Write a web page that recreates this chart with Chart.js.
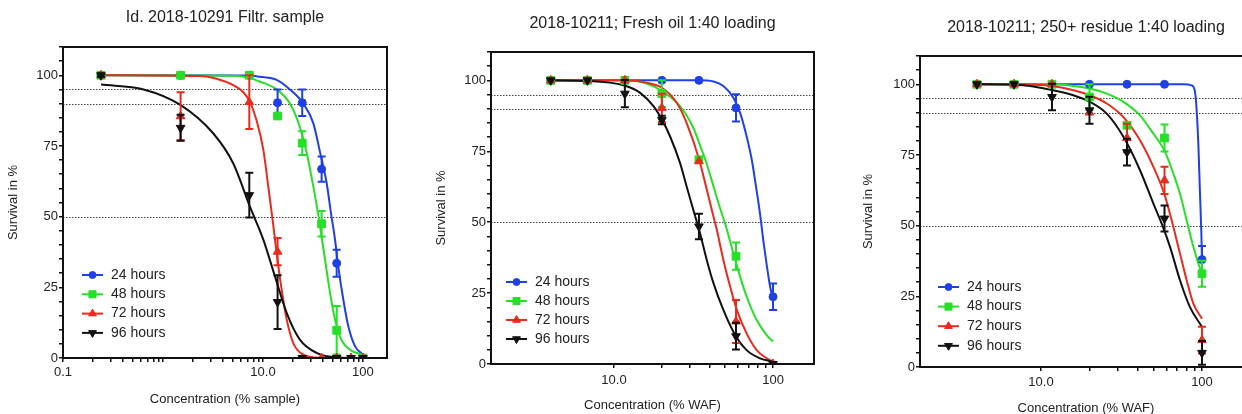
<!DOCTYPE html>
<html>
<head>
<meta charset="utf-8">
<script src="https://cdn.jsdelivr.net/npm/chart.js@4.4.1/dist/chart.umd.min.js"></script>
<style>
   body { margin: 0; background: #fff; overflow: hidden; width: 1242px; height: 414px; position: relative; }
   canvas { position: absolute; top: 0; }
</style>
</head>
<body>
<canvas id="chart-1" width="414" height="414" style="left:0px"></canvas>
<canvas id="chart-2" width="414" height="414" style="left:414px"></canvas>
<canvas id="chart-3" width="460" height="414" style="left:828px"></canvas>
<script>
// series shared by the three panels
const seriesNames = ["24 hours", "48 hours", "72 hours", "96 hours"];
const yTickValues = [0, 25, 50, 75, 100];
const refLines = [95, 90, 50];

// panel 1 - Id. 2018-10291 Filtr. sample
const p1Conc = [0.24, 1.5, 7.3, 14, 24.7, 38.6, 54.6, 76, 100];
const p1_24h = [100, 100, 100, 90.3, 90.3, 66.8, 33.5, null, 0];
const p1_48h = [100, 100, 100, 85.6, 76, 47.5, 9.8, null, 0];
const p1_72h = [100, 85.5, 90.5, 37.6, 0, 0, 0, 0, 0];
const p1_96h = [100, 81.4, 57.6, 19.8, 0, null, 0, 0, 0];
const p1_24hErr = [0, 0, 0, 4.7, 4.7, 4.5, 4.8, 0, 0];
const p1_48hErr = [0, 0, 0, 0.5, 4.2, 4.5, 8.6, 0, 0];
const p1_72hErr = [0, 8.5, 9.5, 4.8, 0, 0, 0, 0, 0];
const p1_96hErr = [0.5, 4.6, 7.9, 9.5, 0, 0, 0, 0, 0];
const p1_24hFit = [[0.24, 100], [7.41, 99.9], [9.26, 99.5], [13.7, 98.4], [18.6, 95], [25.3, 90], [31.9, 83], [37.1, 73], [43.3, 62], [48, 51], [52.5, 42], [56.6, 32.4], [63.6, 20.7], [71.3, 11.3], [83.2, 4.2], [100, 1.2]];
const p1_48hFit = [[0.24, 100], [5.05, 99.8], [7.41, 99], [9.26, 97.8], [13.7, 95], [18.6, 90], [23.4, 81.7], [27.4, 72.4], [31.9, 60.6], [36, 50], [40.1, 39], [45, 27], [50.5, 16.5], [58.9, 7.6], [74.1, 2.9], [100, 1.2]];
const p1_72hFit = [[0.24, 100], [2.34, 99.7], [3.44, 98.8], [5.05, 96.5], [6.36, 94], [7.41, 90.6], [8.64, 84], [10.1, 73.5], [11.3, 60.6], [12.5, 48.8], [13.7, 37.1], [15.4, 24.1], [17.3, 13.5], [20.1, 5.3], [25.3, 1.2], [37.2, 0]];
const p1_96hFit = [[0.24, 96.7], [0.64, 95], [1.48, 89.6], [3.19, 79.4], [5.05, 68.8], [7.41, 53.5], [10.1, 41.8], [13.2, 28.8], [17.3, 15.9], [23.4, 6.5], [34.4, 1.8], [54.6, 0.2], [100, 0]];
const p1XTicks = [0.1, 0.2, 0.3, 0.4, 0.5, 0.6, 0.7, 0.8, 0.9, 1, 2, 3, 4, 5, 6, 7, 8, 9, 10, 20, 30, 40, 50, 60, 70, 80, 90, 100];
const p1XLabelValues = [0.1, 10, 100];
const p1XLabels = ["0.1", "10.0", "100"];

// panel 2 - Fresh oil
const p2Conc = [4.0, 6.8, 11.7, 20, 34.2, 58.5, 100];
const p2_24h = [100, 100, 100, 100, 100, 90.3, 23.7];
const p2_48h = [100, 100, 100, 95.3, 72, 38, null];
const p2_72h = [100, 100, 100, 90.3, 71.5, 15, 0];
const p2_96h = [100, 100, 95.3, 86, 48.5, 9.8, 0];
const p2_24hErr = [0, 0, 0, 0, 0, 4.8, 4.7];
const p2_48hErr = [0, 0, 0, 4.7, 0, 4.8, 0];
const p2_72hErr = [0, 0, 0, 5, 0, 7.6, 0];
const p2_96hErr = [0, 0, 4.8, 1.5, 4.5, 4.7, 0];
const p2_24hFit = [[4.0, 100], [34.3, 100], [42.2, 99.6], [48.7, 98], [56.3, 93.9], [62, 88.6], [68.2, 80.3], [73.5, 72], [78.9, 61], [82.8, 53], [86.9, 43.5], [91.2, 35], [95.7, 27.5], [100, 22.6]];
const p2_48hFit = [[4.0, 100], [11.6, 100], [16, 98.9], [20, 96.2], [26, 90.9], [31.5, 83.3], [34.8, 77], [38.3, 70.5], [42.2, 62.7], [46.4, 55], [50.6, 48.5], [56.3, 39.1], [62, 30.9], [68.2, 23.8], [78.9, 15.5], [91.2, 10.2], [100, 7.9]];
const p2_72hFit = [[4.0, 100], [11.6, 100], [16, 99.2], [20, 97.4], [24.8, 92.1], [28.6, 85], [34.3, 72.1], [38.3, 61.5], [42.2, 52], [44.3, 47.3], [48.7, 36.7], [53.7, 27.3], [59.2, 19.1], [68.2, 10.8], [78.9, 4.9], [91.2, 2], [100, 0.8]];
const p2_96hFit = [[4.0, 100], [6.8, 99.8], [11.6, 98.2], [14.6, 95.6], [17.7, 90.9], [20, 86.2], [22.5, 80.3], [26, 70.9], [28.6, 62.7], [31.5, 54.4], [34.3, 47.3], [38.3, 36.7], [42.2, 28.5], [48.7, 19.1], [58.5, 9.7], [68.2, 4.9], [82.8, 2], [100, 0.8]];

// panel 3 - 250+ residue
const p3Conc = [4.0, 6.8, 11.7, 20, 34.2, 58.5, 100];
const p3_24h = [100, 100, 100, 100, 100, 100, 38];
const p3_48h = [100, 100, 100, 95.5, 85.5, 81, 33];
const p3_72h = [100, 100, 100, 90, 81, 66, 9.5];
const p3_96h = [100, 100, 95.5, 90.8, 76, 52.5, 5];
const p3_24hErr = [0, 0, 0, 0, 0, 0, 4.8];
const p3_48hErr = [0, 0, 0, 4.5, 0.5, 4.8, 4.6];
const p3_72hErr = [0, 0, 0, 0, 5, 4.8, 4.7];
const p3_96hErr = [0, 0, 4.7, 4.8, 4.7, 4.6, 4.2];
const p3_24hFit = [[4.0, 100], [76.6, 100], [86.3, 99.6], [90.5, 97.3], [92.6, 91], [94.9, 79], [97.2, 61.3], [99.1, 47.2], [100, 37.7]];
const p3_48hFit = [[4.0, 100], [11.9, 100], [15.9, 99.4], [20.1, 98.5], [25.6, 96.7], [32.5, 93.8], [41.2, 89], [49.9, 82.5], [58.3, 76.7], [66.4, 68.4], [73, 61.3], [80.3, 51.9], [88.4, 42.5], [94.9, 36.6], [100, 33]];
const p3_72hFit = [[4.0, 100], [7.0, 100], [11.9, 99.3], [15.9, 97.9], [20.1, 96.1], [25.6, 93.2], [32.5, 88.4], [41.2, 80.2], [49.9, 70.8], [58.3, 61.3], [64.8, 51.9], [73, 40.1], [80.3, 30.7], [88.4, 22.4], [100, 17.1]];
const p3_96hFit = [[4.0, 100], [7.0, 99.8], [11.9, 97.9], [15.9, 96.1], [20.1, 93.8], [25.6, 89.6], [32.5, 81.4], [41.2, 69.6], [49.9, 57.8], [56.2, 50.7], [63.3, 42.5], [73, 30.7], [84.2, 21.2], [100, 14.2]];

const wafXTicks = [10, 20, 30, 40, 50, 60, 70, 80, 90, 100];
const wafXLabelValues = [10, 100];
const wafXLabels = ["10.0", "100"];

// styles
const seriesColors = ["#1f40e6", "#25e025", "#ea2a1c", "#111111"];
const seriesShapes = ["circle", "rect", "triangle", "triangle"];
const seriesRotation = [0, 0, 0, 180];
const seriesRadius = [4, 5.5, 5, 5];
const fontFamily = "'Liberation Sans', Arial, sans-serif";

Chart.defaults.font.family = fontFamily;
Chart.defaults.color = "#222";

const yTicksAll = [];
for (let v = 0; v <= 110; v += 5) yTicksAll.push(v);

const errorBarPlugin = {
   id: "errorBars",
   afterDatasetDraw: function (chart, args) {
      const ds = chart.data.datasets[args.index];
      if (!ds.errors) return;
      const ctx = chart.ctx;
      const xs = chart.scales.x;
      const ys = chart.scales.y;
      ctx.save();
      ctx.strokeStyle = ds.borderColor;
      ctx.lineWidth = 2;
      ds.data.forEach(function (p, i) {
         const e = ds.errors[i];
         if (!e) return;
         const x = xs.getPixelForValue(p.x);
         const yTop = ys.getPixelForValue(p.y + e);
         const yBot = ys.getPixelForValue(Math.max(p.y - e, 0));
         ctx.beginPath();
         ctx.moveTo(x, yTop);
         ctx.lineTo(x, yBot);
         ctx.moveTo(x - 4, yTop);
         ctx.lineTo(x + 4, yTop);
         if (p.y - e > 0) {
            ctx.moveTo(x - 4, yBot);
            ctx.lineTo(x + 4, yBot);
         }
         ctx.stroke();
      });
      ctx.restore();
   },
};

const framePlugin = {
   id: "frameLines",
   beforeDatasetsDraw: function (chart) {
      const ctx = chart.ctx;
      const area = chart.chartArea;
      ctx.save();
      ctx.strokeStyle = "#444";
      ctx.lineWidth = 1;
      ctx.setLineDash([1.5, 1.5]);
      refLines.forEach(function (v) {
         const y = Math.round(chart.scales.y.getPixelForValue(v)) + 0.5;
         ctx.beginPath();
         ctx.moveTo(area.left, y);
         ctx.lineTo(area.right, y);
         ctx.stroke();
      });
      ctx.restore();
   },
   afterDraw: function (chart) {
      const ctx = chart.ctx;
      const area = chart.chartArea;
      ctx.save();
      ctx.strokeStyle = "#111";
      ctx.lineWidth = 2;
      ctx.strokeRect(area.left, area.top, area.right - area.left, area.bottom - area.top);
      ctx.restore();
   },
};

const legendPlugin = {
   id: "panelLegend",
   afterDraw: function (chart, args, opts) {
      const ctx = chart.ctx;
      ctx.save();
      ctx.font = "14px " + fontFamily;
      ctx.textBaseline = "middle";
      seriesNames.forEach(function (name, s) {
         const y = opts.y + s * opts.step;
         ctx.strokeStyle = seriesColors[s];
         ctx.fillStyle = seriesColors[s];
         ctx.lineWidth = 2;
         ctx.beginPath();
         ctx.moveTo(opts.x, y);
         ctx.lineTo(opts.x + 21, y);
         ctx.stroke();
         ctx.lineWidth = 1;
         Chart.helpers.drawPoint(ctx, {
            pointStyle: seriesShapes[s],
            radius: seriesRadius[s] - 0.5,
            rotation: seriesRotation[s],
            borderWidth: 1,
         }, opts.x + 10.5, y);
         ctx.fillStyle = "#222";
         ctx.fillText(name, opts.x + 29, y);
      });
      ctx.restore();
   },
};

function drawPanel(canvasId, panel) {
   const ctx = document.getElementById(canvasId).getContext("2d");
   const datasets = [];

   for (let s = 0; s < seriesNames.length; s++) {
      const pts = [];
      const errs = [];
      panel.values[s].forEach(function (v, i) {
         if (v === null) return;
         pts.push({ x: panel.conc[i], y: v });
         errs.push(panel.errors[s][i]);
      });
      datasets.push({
         label: seriesNames[s],
         data: pts,
         errors: errs,
         showLine: false,
         pointStyle: seriesShapes[s],
         pointRotation: seriesRotation[s],
         pointRadius: seriesRadius[s],
         backgroundColor: seriesColors[s],
         borderColor: seriesColors[s],
         borderWidth: 1,
         order: 4 - s,
      });
      datasets.push({
         label: seriesNames[s] + " fit",
         data: panel.fits[s].map(function (p) {
            return { x: p[0], y: p[1] };
         }),
         showLine: true,
         pointRadius: 0,
         borderColor: seriesColors[s],
         borderWidth: 2,
         cubicInterpolationMode: "monotone",
         order: 14 - s,
      });
   }

   return new Chart(ctx, {
      type: "scatter",
      plugins: [framePlugin, errorBarPlugin, legendPlugin],
      data: { datasets: datasets },
      options: {
         responsive: false,
         animation: false,
         events: [],
         layout: {
            autoPadding: false,
            padding: { left: 0, right: panel.padRight, top: 0, bottom: 0 },
         },
         plugins: {
            legend: { display: false },
            tooltip: { enabled: false },
            title: {
               display: true,
               text: panel.title,
               fullSize: false,
               color: "#222",
               font: { size: 16, weight: "normal" },
               padding: { top: panel.titlePad[0], bottom: panel.titlePad[1] },
            },
            panelLegend: panel.legend,
         },
         scales: {
            x: {
               type: "logarithmic",
               min: panel.xRange[0],
               max: panel.xRange[1],
               afterBuildTicks: function (scale) {
                  scale.ticks = panel.xTicks.map(function (v) {
                     return { value: v };
                  });
               },
               afterFit: function (scale) {
                  scale.height = 414 - panel.bottom;
               },
               border: { display: false },
               grid: {
                  drawOnChartArea: false,
                  drawTicks: true,
                  tickLength: 4,
                  color: "#111",
                  lineWidth: 1.5,
               },
               ticks: {
                  autoSkip: false,
                  maxRotation: 0,
                  padding: panel.xTickPad,
                  color: "#222",
                  font: { size: 13 },
                  callback: function (value) {
                     const k = panel.xLabelValues.indexOf(value);
                     return k >= 0 ? panel.xLabels[k] : "";
                  },
               },
               title: {
                  display: true,
                  text: panel.xTitle,
                  color: "#222",
                  font: { size: 13 },
                  padding: { top: 0, bottom: panel.xTitlePad },
               },
            },
            y: {
               min: 0,
               max: 110,
               afterBuildTicks: function (scale) {
                  scale.ticks = yTicksAll.map(function (v) {
                     return { value: v };
                  });
               },
               afterFit: function (scale) {
                  scale.width = panel.left;
               },
               border: { display: false },
               grid: {
                  drawOnChartArea: false,
                  drawTicks: true,
                  tickLength: 4,
                  color: "#111",
                  lineWidth: 1.5,
               },
               ticks: {
                  autoSkip: false,
                  padding: 1,
                  color: "#222",
                  font: { size: 13 },
                  callback: function (value) {
                     return yTickValues.indexOf(value) >= 0 ? String(value) : "";
                  },
               },
               title: {
                  display: true,
                  text: "Survival in %",
                  color: "#222",
                  font: { size: 13 },
                  padding: { top: panel.yTitlePad, bottom: 0 },
               },
            },
         },
      },
   });
}

drawPanel("chart-1", {
   title: "Id. 2018-10291 Filtr. sample",
   xTitle: "Concentration (% sample)",
   conc: p1Conc,
   values: [p1_24h, p1_48h, p1_72h, p1_96h],
   errors: [p1_24hErr, p1_48hErr, p1_72hErr, p1_96hErr],
   fits: [p1_24hFit, p1_48hFit, p1_72hFit, p1_96hFit],
   xRange: [0.1, 174],
   xTicks: p1XTicks,
   xLabelValues: p1XLabelValues,
   xLabels: p1XLabels,
   left: 63,
   bottom: 358,
   padRight: 27,
   titlePad: [8.4, 19.4],
   yTitlePad: 5.7,
   xTitlePad: 7.2,
   xTickPad: 3,
   legend: { x: 82, y: 275, step: 19.3 },
});

drawPanel("chart-2", {
   title: "2018-10211; Fresh oil 1:40 loading",
   xTitle: "Concentration (% WAF)",
   conc: p2Conc,
   values: [p2_24h, p2_48h, p2_72h, p2_96h],
   errors: [p2_24hErr, p2_48hErr, p2_72hErr, p2_96hErr],
   fits: [p2_24hFit, p2_48hFit, p2_72hFit, p2_96hFit],
   xRange: [1.684, 181],
   xTicks: wafXTicks,
   xLabelValues: wafXLabelValues,
   xLabels: wafXLabels,
   left: 77,
   bottom: 364,
   padRight: 14,
   titlePad: [14.4, 18.4],
   yTitlePad: 19.2,
   xTitlePad: 1.2,
   xTickPad: 5,
   legend: { x: 92, y: 282, step: 19 },
});

// right edge of this panel lies just outside the window, as in the source figure
drawPanel("chart-3", {
   title: "2018-10211; 250+ residue 1:40 loading",
   xTitle: "Concentration (% WAF)",
   conc: p3Conc,
   values: [p3_24h, p3_48h, p3_72h, p3_96h],
   errors: [p3_24hErr, p3_48hErr, p3_72hErr, p3_96hErr],
   fits: [p3_24hFit, p3_48hFit, p3_72hFit, p3_96hFit],
   xRange: [1.771, 204.5],
   xTicks: wafXTicks,
   xLabelValues: wafXLabelValues,
   xLabels: wafXLabels,
   left: 92,
   bottom: 367,
   padRight: 36,
   titlePad: [18.4, 18.4],
   yTitlePad: 32.2,
   xTitlePad: -2,
   xTickPad: 4,
   legend: { x: 110, y: 287, step: 19.6 },
});
</script>
</body>
</html>
